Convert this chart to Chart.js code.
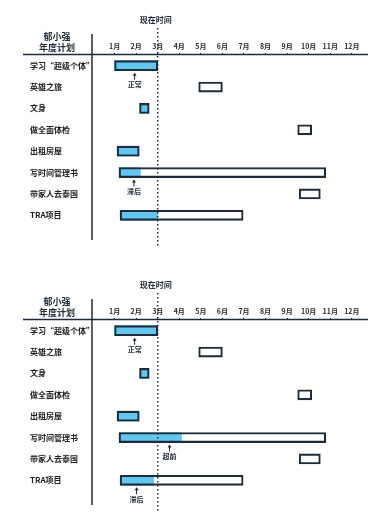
<!DOCTYPE html>
<html><head><meta charset="utf-8">
<script src="https://cdn.jsdelivr.net/npm/chart.js@4"></script>
<style>
html,body{margin:0;padding:0;background:#fff;overflow:hidden;}
#w1{position:absolute;left:0;top:0;width:378px;height:262px;}
#w2{position:absolute;left:0;top:265px;width:378px;height:260px;}
</style></head><body>
<div id="w1"><canvas id="c1"></canvas></div>
<div id="w2"><canvas id="c2"></canvas></div>
<script>
const categories = ['学习“超级个体”','英雄之旅','文身','做全面体检','出租房屋','写时间管理书','带家人去泰国','TRA项目'];
const monthLabels = ['1月','2月','3月','4月','5月','6月','7月','8月','9月','10月','11月','12月'];
const planStart = [1, 4.9, 2.16, 9.49, 1.12, 1.21, 9.56, 1.26];
const planEnd   = [3, 6.0, 2.6, 10.14, 2.14, 10.79, 10.54, 6.96];
const progressEnd1 = [3, null, 2.6, null, 2.14, 2.2, null, 3];
const progressEnd2 = [3, null, 2.6, null, 2.14, 4.1, null, 2.81];
const nowMonth = 3;
const notesRow1 = [0, 5];
const notesAt1 = [1.93, 1.9];
const notesText1 = ['正常', '滞后'];
const notesRow2 = [0, 5, 7];
const notesAt2 = [1.93, 3.55, 2.02];
const notesText2 = ['正常', '超前', '滞后'];
const titleLines = ['郁小强', '年度计划'];
const nowLabel = '现在时间';

const INK = '#1f2b38';
const BLUE = '#62c6ee';
const FONT = '"Noto Sans CJK SC", "Noto Sans", sans-serif';

function makeChart(id, progressEnd, nRows, nAt, nText, bottomPad) {
  const deco = {
    id: 'deco',
    afterDraw(chart) {
      const ctx = chart.ctx, a = chart.chartArea;
      const xs = chart.scales.x, ys = chart.scales.y;
      ctx.save();
      ctx.strokeStyle = INK; ctx.fillStyle = INK;
      // header line
      ctx.lineWidth = 1.5;
      ctx.beginPath(); ctx.moveTo(23, a.top - 0.5); ctx.lineTo(a.right, a.top - 0.5); ctx.stroke();
      // vertical divider
      ctx.beginPath(); ctx.moveTo(a.left - 1, a.top - 21); ctx.lineTo(a.left - 1, a.bottom + 14); ctx.stroke();
      // now line
      const nx = xs.getPixelForValue(nowMonth);
      ctx.setLineDash([1.5, 2.5]);
      ctx.beginPath(); ctx.moveTo(nx, a.top - 27); ctx.lineTo(nx, a.bottom + 22); ctx.stroke();
      ctx.setLineDash([]);
      ctx.textAlign = 'center'; ctx.textBaseline = 'middle';
      ctx.font = 'bold 8px ' + FONT;
      ctx.fillText(nowLabel, nx - 2, a.top - 35);
      // title
      ctx.font = 'bold 9px ' + FONT;
      ctx.fillText(titleLines[0], 57, a.top - 18);
      ctx.fillText(titleLines[1], 57, a.top - 7);
      // notes
      ctx.font = 'bold 7px ' + FONT;
      ctx.lineWidth = 1;
      for (let i = 0; i < nRows.length; i++) {
        const x = xs.getPixelForValue(nAt[i]);
        const y0 = ys.getPixelForValue(nRows[i]) + 7;
        ctx.beginPath(); ctx.moveTo(x, y0 + 1); ctx.lineTo(x, y0 + 7); ctx.stroke();
        ctx.beginPath(); ctx.moveTo(x, y0); ctx.lineTo(x - 2, y0 + 3); ctx.lineTo(x + 2, y0 + 3); ctx.closePath(); ctx.fill();
        ctx.fillText(nText[i], x, y0 + 12);
      }
      ctx.restore();
    }
  };
  return new Chart(document.getElementById(id), {
    type: 'bar',
    data: {
      labels: categories,
      datasets: [
        { label: 'plan', data: categories.map((_, i) => [planStart[i], planEnd[i]]),
          backgroundColor: 'rgba(255,255,255,0)', borderColor: INK, borderWidth: 1.4,
          borderSkipped: false, barThickness: 10, grouped: false },
        { label: 'progress', data: categories.map((_, i) => progressEnd[i] == null ? null : [planStart[i], progressEnd[i]]),
          backgroundColor: BLUE, borderWidth: 0, barThickness: 10, grouped: false }
      ]
    },
    options: {
      indexAxis: 'y',
      responsive: true, maintainAspectRatio: false, animation: false,
      layout: { padding: { left: 30, right: 10, top: 0, bottom: bottomPad } },
      plugins: { legend: { display: false }, tooltip: { enabled: false } },
      scales: {
        x: {
          type: 'linear', position: 'top', min: 0, max: 12.75,
          afterBuildTicks: s => { s.ticks = monthLabels.map((_, i) => ({ value: i + 1 })); },
          afterFit: s => { s.height = 55; },
          ticks: { callback: v => monthLabels[v - 1] || '', font: { family: FONT, size: 7, weight: 'bold' }, color: '#2a2a2a', padding: 2, maxRotation: 0, autoSkip: false },
          grid: { drawOnChartArea: false, tickLength: 2, color: INK },
          border: { display: false }
        },
        y: {
          type: 'category', offset: true,
          afterFit: s => { s.width = 63; },
          ticks: { crossAlign: 'far', font: { family: FONT, size: 8, weight: 'bold' }, color: '#222', padding: 0 },
          grid: { display: false }, border: { display: false }
        }
      }
    },
    plugins: [deco]
  });
}
makeChart('c1', progressEnd1, notesRow1, notesAt1, notesText1, 36);
makeChart('c2', progressEnd2, notesRow2, notesAt2, notesText2, 34);
</script>
</body></html>
